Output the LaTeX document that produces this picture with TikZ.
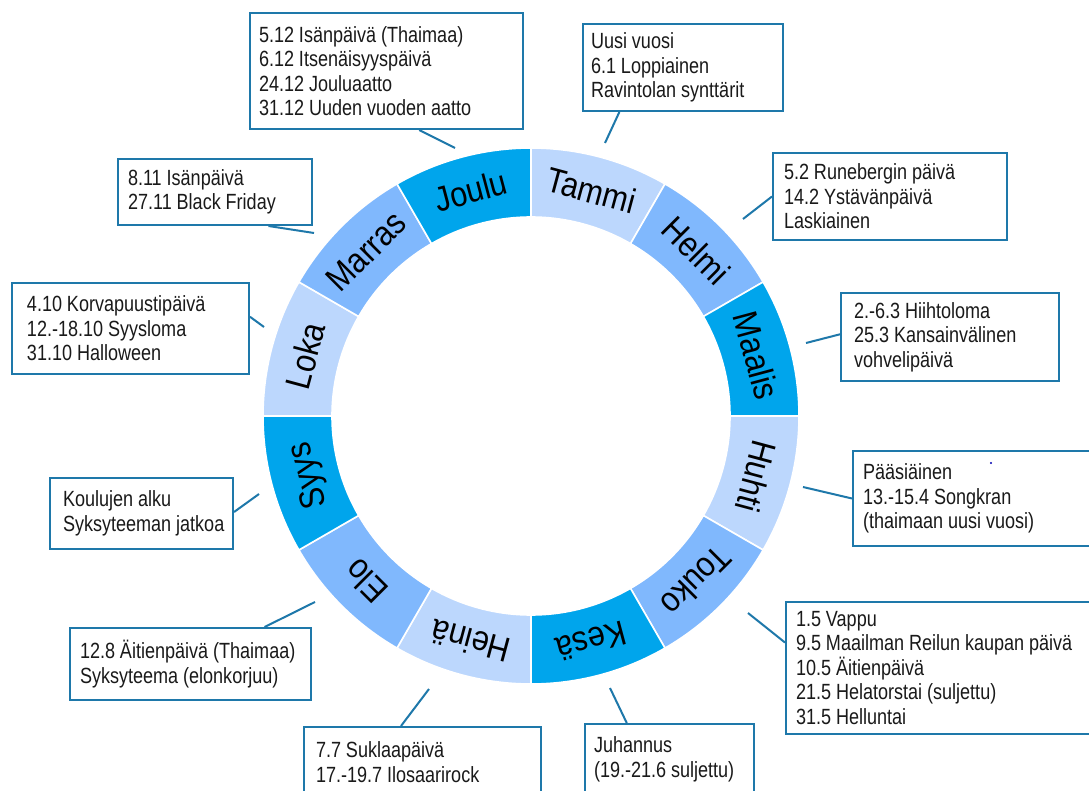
\documentclass[tikz,border=0pt]{standalone}
\usepackage{fontspec}
\setmainfont{Liberation Sans}[FakeStretch=0.82]
\newfontfamily\monthfont{Liberation Sans}[FakeStretch=0.88]
\usetikzlibrary{calc}
\definecolor{mdark}{HTML}{00A5EC}
\definecolor{mmed}{HTML}{80B8FD}
\definecolor{mlight}{HTML}{BCD7FD}
\definecolor{edge}{HTML}{1E78AA}
\definecolor{ink}{HTML}{1A1A1A}
\newlength\evspace
\setlength\evspace{4.9pt}
\begin{document}
\begin{tikzpicture}[x=1pt,y=-1pt,
  evbox/.style={draw=edge, line width=2pt, fill=white, anchor=north west, align=left,
    inner ysep=0pt, font=\fontsize{22}{24.5}\selectfont, text=ink,
    execute at begin node={\spaceskip=\evspace\relax}},
  link/.style={draw=edge, line width=2pt},
  month/.style={font=\monthfont\fontsize{35}{37}\selectfont, text=black, inner sep=0pt,
    text height=25pt, text depth=0pt}]
\useasboundingbox (0,0) rectangle (1089,791);
\clip (0,0) rectangle (1089,791);
\fill[white] (0,0) rectangle (1089,791);

% ring
\begin{scope}[x=1pt,y=1pt,shift={(531pt,-416pt)}]
\foreach \nm/\col [count=\i from 0] in {Tammi/mlight,Helmi/mmed,Maalis/mdark,Huhti/mlight,Touko/mmed,Kesä/mdark,Heinä/mlight,Elo/mmed,Syys/mdark,Loka/mlight,Marras/mmed,Joulu/mdark}{
  \pgfmathsetmacro\a{90-30*\i}
  \pgfmathsetmacro\b{60-30*\i}
  \pgfmathsetmacro\m{75-30*\i}
  \filldraw[fill=\col, draw=white, line width=1.6pt] (\a:268) arc[start angle=\a, end angle=\b, radius=268] -- (\b:199) arc[start angle=\b, end angle=\a, radius=199] -- cycle;
  \node[month, rotate=\m-90] (m\i) at (\m:233.5) {\nm};
}
\end{scope}

% connector ends near the ring
\coordinate (kTammi) at (605,143);
\coordinate (kHelmi) at (743,219);
\coordinate (kMaalis) at (806,343);
\coordinate (kHuhti) at (803,487);
\coordinate (kTouko) at (748,613);
\coordinate (kKesa) at (610,688);
\coordinate (kHeina) at (429,689);
\coordinate (kElo) at (315,602);
\coordinate (kSyys) at (259,494);
\coordinate (kLoka) at (264,327);
\coordinate (kMarras) at (314,233);
\coordinate (kJoulu) at (455,148);

% boxes
\node[evbox, text width=255pt, inner xsep=9pt, minimum height=116pt] (bJoulu) at (249,12)
  {\mbox{5.12 Isänpäivä (Thaimaa)}\\\mbox{6.12 Itsenäisyyspäivä}\\\mbox{24.12 Jouluaatto}\\\mbox{31.12 Uuden vuoden aatto}};
\node[evbox, text width=184pt, inner xsep=8pt, minimum height=87pt] (bTammi) at (582,23)
  {\mbox{Uusi vuosi}\\\mbox{6.1 Loppiainen}\\\mbox{Ravintolan synttärit}};
\node[evbox, text width=212pt, inner xsep=11pt, minimum height=87pt] (bHelmi) at (772,152)
  {\mbox{5.2 Runebergin päivä}\\\mbox{14.2 Ystävänpäivä}\\\mbox{Laskiainen}};
\node[evbox, text width=192pt, inner xsep=13pt, minimum height=88pt] (bMaalis) at (840,292)
  {\mbox{2.-6.3 Hiihtoloma}\\\mbox{25.3 Kansainvälinen}\\\mbox{vohvelipäivä}};
\node[evbox, text width=228pt, inner xsep=10pt, minimum height=95pt] (bHuhti) at (852,450)
  {\mbox{Pääsiäinen}\\\mbox{13.-15.4 Songkran}\\\mbox{(thaimaan uusi vuosi)}};
\node[evbox, text width=295pt, inner xsep=10pt, minimum height=132pt] (bTouko) at (785,601)
  {\mbox{1.5 Vappu}\\\mbox{9.5 Maailman Reilun kaupan päivä}\\\mbox{10.5 Äitienpäivä}\\\mbox{21.5 Helatorstai (suljettu)}\\\mbox{31.5 Helluntai}};
\node[evbox, text width=151pt, inner xsep=9pt, minimum height=71pt] (bKesa) at (584,723)
  {\mbox{Juhannus}\\\mbox{(19.-21.6 suljettu)}};
\node[evbox, text width=213pt, inner xsep=12pt, minimum height=70pt] (bHeina) at (303,726)
  {\mbox{7.7 Suklaapäivä}\\\mbox{17.-19.7 Ilosaarirock}};
\node[evbox, text width=221pt, inner xsep=10pt, minimum height=72pt] (bElo) at (69,627)
  {\mbox{12.8 Äitienpäivä (Thaimaa)}\\\mbox{Syksyteema (elonkorjuu)}};
\node[evbox, text width=157pt, inner xsep=13pt, minimum height=71pt] (bSyys) at (49,477)
  {\mbox{Koulujen alku}\\\mbox{Syksyteeman jatkoa}};
\node[evbox, text width=207pt, inner xsep=15pt, minimum height=91pt] (bLoka) at (11,282)
  {\mbox{4.10 Korvapuustipäivä}\\\mbox{12.-18.10 Syysloma}\\\mbox{31.10 Halloween}};
\node[evbox, text width=174pt, inner xsep=10pt, minimum height=66pt] (bMarras) at (117,158)
  {\mbox{8.11 Isänpäivä}\\\mbox{27.11 Black Friday}};

% connectors
\draw[link] ($(bJoulu.south west)!0.619!(bJoulu.south east)$) -- (kJoulu);
\draw[link] ($(bTammi.south west)!0.185!(bTammi.south east)$) -- (kTammi);
\draw[link] (bHelmi.west) -- (kHelmi);
\draw[link] ($(bMaalis.north west)!0.47!(bMaalis.south west)$) -- (kMaalis);
\draw[link] (bHuhti.west) -- (kHuhti);
\draw[link] ($(bTouko.north west)!0.31!(bTouko.south west)$) -- (kTouko);
\draw[link] ($(bKesa.north west)!0.25!(bKesa.north east)$) -- (kKesa);
\draw[link] ($(bHeina.north west)!0.41!(bHeina.north east)$) -- (kHeina);
\draw[link] ($(bElo.north west)!0.805!(bElo.north east)$) -- (kElo);
\draw[link] ($(bSyys.north east)!0.48!(bSyys.south east)$) -- (kSyys);
\draw[link] ($(bLoka.north east)!0.374!(bLoka.south east)$) -- (kLoka);
\draw[link] ($(bMarras.south west)!0.773!(bMarras.south east)$) -- (kMarras);

\fill[blue!70!black] (991,463) circle (1.1);
\end{tikzpicture}
\end{document}
